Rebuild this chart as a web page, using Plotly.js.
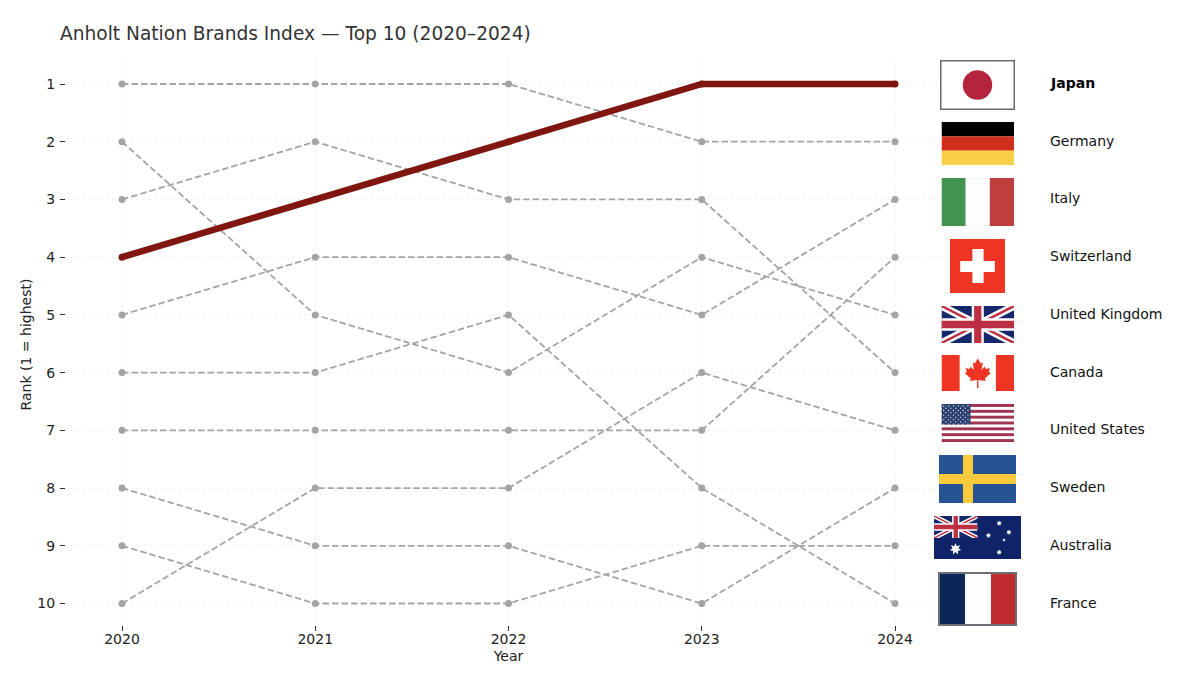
<!DOCTYPE html>
<html><head><meta charset="utf-8">
<script src="https://cdn.plot.ly/plotly-3.0.1.min.js"></script>
<style>html,body{margin:0;padding:0;background:#fff}#c{width:1200px;height:678px}</style>
</head><body><div id="c"></div>
<script>
const years = [2020, 2021, 2022, 2023, 2024];
const countries = ['Japan','Germany','Italy','Switzerland','United Kingdom','Canada','United States','Sweden','Australia','France'];
const japan = [4,3,2,1,1];
const germany = [1,1,1,2,2];
const italy = [5,4,4,5,3];
const switzerland = [7,7,7,7,4];
const unitedKingdom = [2,5,6,4,5];
const canada = [3,2,3,3,6];
const unitedStates = [10,8,8,6,7];
const sweden = [8,9,9,10,8];
const australia = [9,10,10,9,9];
const france = [6,6,5,8,10];
const ranks = [japan,germany,italy,switzerland,unitedKingdom,canada,unitedStates,sweden,australia,france];
const finalRanks = [1,2,3,4,5,6,7,8,9,10];

const W=1200,H=678, FONT='"DejaVu Sans", sans-serif';
const px=x=>x/W, py=y=>1-y/H;
const uri=(w,h,body)=>'data:image/svg+xml;charset=utf-8,'+encodeURIComponent(
 `<svg xmlns="http://www.w3.org/2000/svg" width="${w*4}" height="${h*4}" viewBox="0 0 ${w} ${h}" preserveAspectRatio="none">${body}</svg>`);
const rect=(x,y,w,h,f)=>`<rect x="${x}" y="${y}" width="${w}" height="${h}" fill="${f}"/>`;
function jack(){
 const b='#14286b',r='#bd2f42';
 return rect(0,0,60,30,b)+
 `<path d="M0,0L60,30M60,0L0,30" stroke="#fff" stroke-width="6"/>`+
 `<path d="M0,0L60,30M60,0L0,30" stroke="${r}" stroke-width="2"/>`+
 `<path d="M30,0V30M0,15H60" stroke="#fff" stroke-width="10"/>`+
 `<path d="M30,0V30M0,15H60" stroke="${r}" stroke-width="6"/>`;
}
function star(cx,cy,R,n,k){
 let p=[];for(let i=0;i<2*n;i++){const a=-Math.PI/2+i*Math.PI/n,q=i%2?R*k:R;p.push((cx+q*Math.cos(a)).toFixed(2)+','+(cy+q*Math.sin(a)).toFixed(2));}
 return `<polygon points="${p.join(' ')}" fill="#fff"/>`;
}
function leaf(){
 const h=[[0,3.5],[3,8.5],[5,7.3],[3.8,15],[7,11.5],[8,14],[12,13],[11,17],[13,18],[7,23.5],[7.8,26],[0.6,25],[0.8,33]];
 const pts=h.map(p=>(36+p[0])+','+p[1]).concat(h.slice(1).reverse().map(p=>(36-p[0])+','+p[1]));
 return `<polygon points="${pts.join(' ')}" fill="#ee3524"/>`;
}
function usa(){
 let s=rect(0,0,130,70,'#fff');
 for(let i=0;i<13;i+=2)s+=rect(0,i*70/13,130,70/13,'#9f3350');
 s+=rect(0,0,52,70*7/13,'#2b3f70');
 for(let r=0;r<9;r++)for(let c=0;c<(r%2?5:6);c++)
  s+=`<circle cx="${(r%2?8:4)+c*8.7}" cy="${3.5+r*4.2}" r="1.15" fill="#fff"/>`;
 return s;
}
const flags=[
 {box:[940,60,1015,110],src:uri(75,50,rect(0,0,75,50,'#fff')+`<rect x=".75" y=".75" width="73.5" height="48.5" fill="none" stroke="#6b6b6b" stroke-width="1.5"/><circle cx="37.5" cy="25" r="14.7" fill="#b5243c"/>`)},
 {box:[941.5,122,1014,165],src:uri(72,43,rect(0,0,72,14.4,'#000')+rect(0,14.4,72,14.3,'#cf2f1c')+rect(0,28.7,72,14.3,'#f8d048'))},
 {box:[941.5,178,1014,226],src:uri(72,48,rect(0,0,72,48,'#e6e6e6')+rect(0,0,24,48,'#409350')+rect(24,.5,24,47,'#fff')+rect(48,0,24,48,'#bf3e3e'))},
 {box:[950,239,1005,293],src:uri(54,54,rect(0,0,54,54,'#ee3524')+rect(22,10,11,34,'#fff')+rect(10,22,34,11,'#fff'))},
 {box:[941.5,306,1014,343],src:uri(60,30,jack())},
 {box:[941.5,355,1014,391],src:uri(72,36,rect(0,0,72,36,'#fff')+rect(0,0,18,36,'#ee3524')+rect(54,0,18,36,'#ee3524')+leaf())},
 {box:[941.5,404,1014,442],src:uri(130,70,usa())},
 {box:[939,455,1016,503],src:uri(77,48,rect(0,0,77,48,'#265391')+rect(24,0,10,48,'#f8ca3c')+rect(0,19,77,10,'#f8ca3c'))},
 {box:[934,516,1021,559],src:uri(87,43,rect(0,0,87,43,'#0f2368')+`<svg x="0" y="0" width="43.5" height="22" viewBox="0 0 60 30" preserveAspectRatio="none">${jack()}</svg>`+star(21.5,33,6,7,.5)+star(65.2,7.3,2.8,7,.5)+star(74.9,16.3,2.8,7,.5)+star(54.4,19.4,2.8,7,.5)+star(70,24,1.7,5,.5)+star(65.2,36.3,2.8,7,.5))},
 {box:[938,572,1017,626],src:uri(79,54,rect(0,0,79,54,'#6e6e78')+rect(2,2,25,50,'#0c2757')+rect(27,2,26,50,'#fff')+rect(53,2,24,50,'#c02b30'))}
];

const GRAY='#a4a4a4', RED='#7f1710';
const traces=[];
countries.forEach((c,i)=>{ if(i===0) return;
 traces.push({x:years,y:ranks[i],name:c,type:'scatter',mode:'lines+markers',
  line:{color:GRAY,width:1.8,dash:'6.5px,3px'},marker:{color:GRAY,size:7},hoverinfo:'name+y',showlegend:false});
});
traces.push({x:years,y:ranks[0],name:countries[0],type:'scatter',mode:'lines+markers',
  line:{color:RED,width:6.5},marker:{color:RED,size:7},hoverinfo:'name+y',showlegend:false});

const pitch=193.25, left=70, right=947, bottom=631;
const layout={
 width:W,height:H,paper_bgcolor:'#fff',plot_bgcolor:'#fff',showlegend:false,
 margin:{l:0,r:0,t:0,b:0,pad:0},
 font:{family:FONT,color:'#222',size:14},
 title:{text:'Anholt Nation Brands Index — Top 10 (2020–2024)',x:px(60),xanchor:'left',xref:'paper',y:py(33),yanchor:'middle',
  font:{family:FONT,size:18.6,color:'#333'}},
 xaxis:{domain:[px(left),px(right)],range:[2020-(122-left)/pitch,2024+(right-895)/pitch],
  anchor:'free',position:py(625),tickmode:'array',tickvals:years,ticktext:years.map(String),
  ticks:'outside',ticklen:5,tickwidth:1,tickcolor:'#333',tickfont:{family:FONT,size:14,color:'#222'},ticklabelstandoff:-4,
  showline:false,zeroline:false,showgrid:true,gridcolor:'#f2f2f2',griddash:'dot',gridwidth:1,
  title:{text:'Year',font:{family:FONT,size:14,color:'#222'},standoff:5}},
 yaxis:{domain:[py(bottom),py(58)],range:[10+(bottom-603.5)/57.72,1-(84-58)/57.72],
  anchor:'free',position:px(65),tickmode:'array',tickvals:finalRanks,ticktext:finalRanks.map(String),
  ticks:'outside',ticklen:5,tickwidth:1,tickcolor:'#333',tickfont:{family:FONT,size:14,color:'#222'},ticklabelstandoff:2,
  showline:false,zeroline:false,showgrid:true,gridcolor:'#f2f2f2',griddash:'dot',gridwidth:1,
  title:{text:'Rank (1 = highest)',font:{family:FONT,size:14,color:'#222'},standoff:1}},
 images:flags.map(f=>({source:f.src,xref:'paper',yref:'paper',x:px(f.box[0]),y:py(f.box[1]),
  sizex:(f.box[2]-f.box[0])/W,sizey:(f.box[3]-f.box[1])/H,sizing:'stretch',xanchor:'left',yanchor:'top',layer:'above'})),
 annotations:countries.map((c,i)=>({text:i===0?'<b>'+c+'</b>':c,xref:'paper',yref:'y',x:px(1048),y:finalRanks[i],yshift:1,
  xanchor:'left',yanchor:'middle',showarrow:false,align:'left',font:{family:FONT,size:14,color:i===0?'#000':'#111'}}))
};
Plotly.newPlot('c',traces,layout,{displayModeBar:false,staticPlot:true});
</script></body></html>
